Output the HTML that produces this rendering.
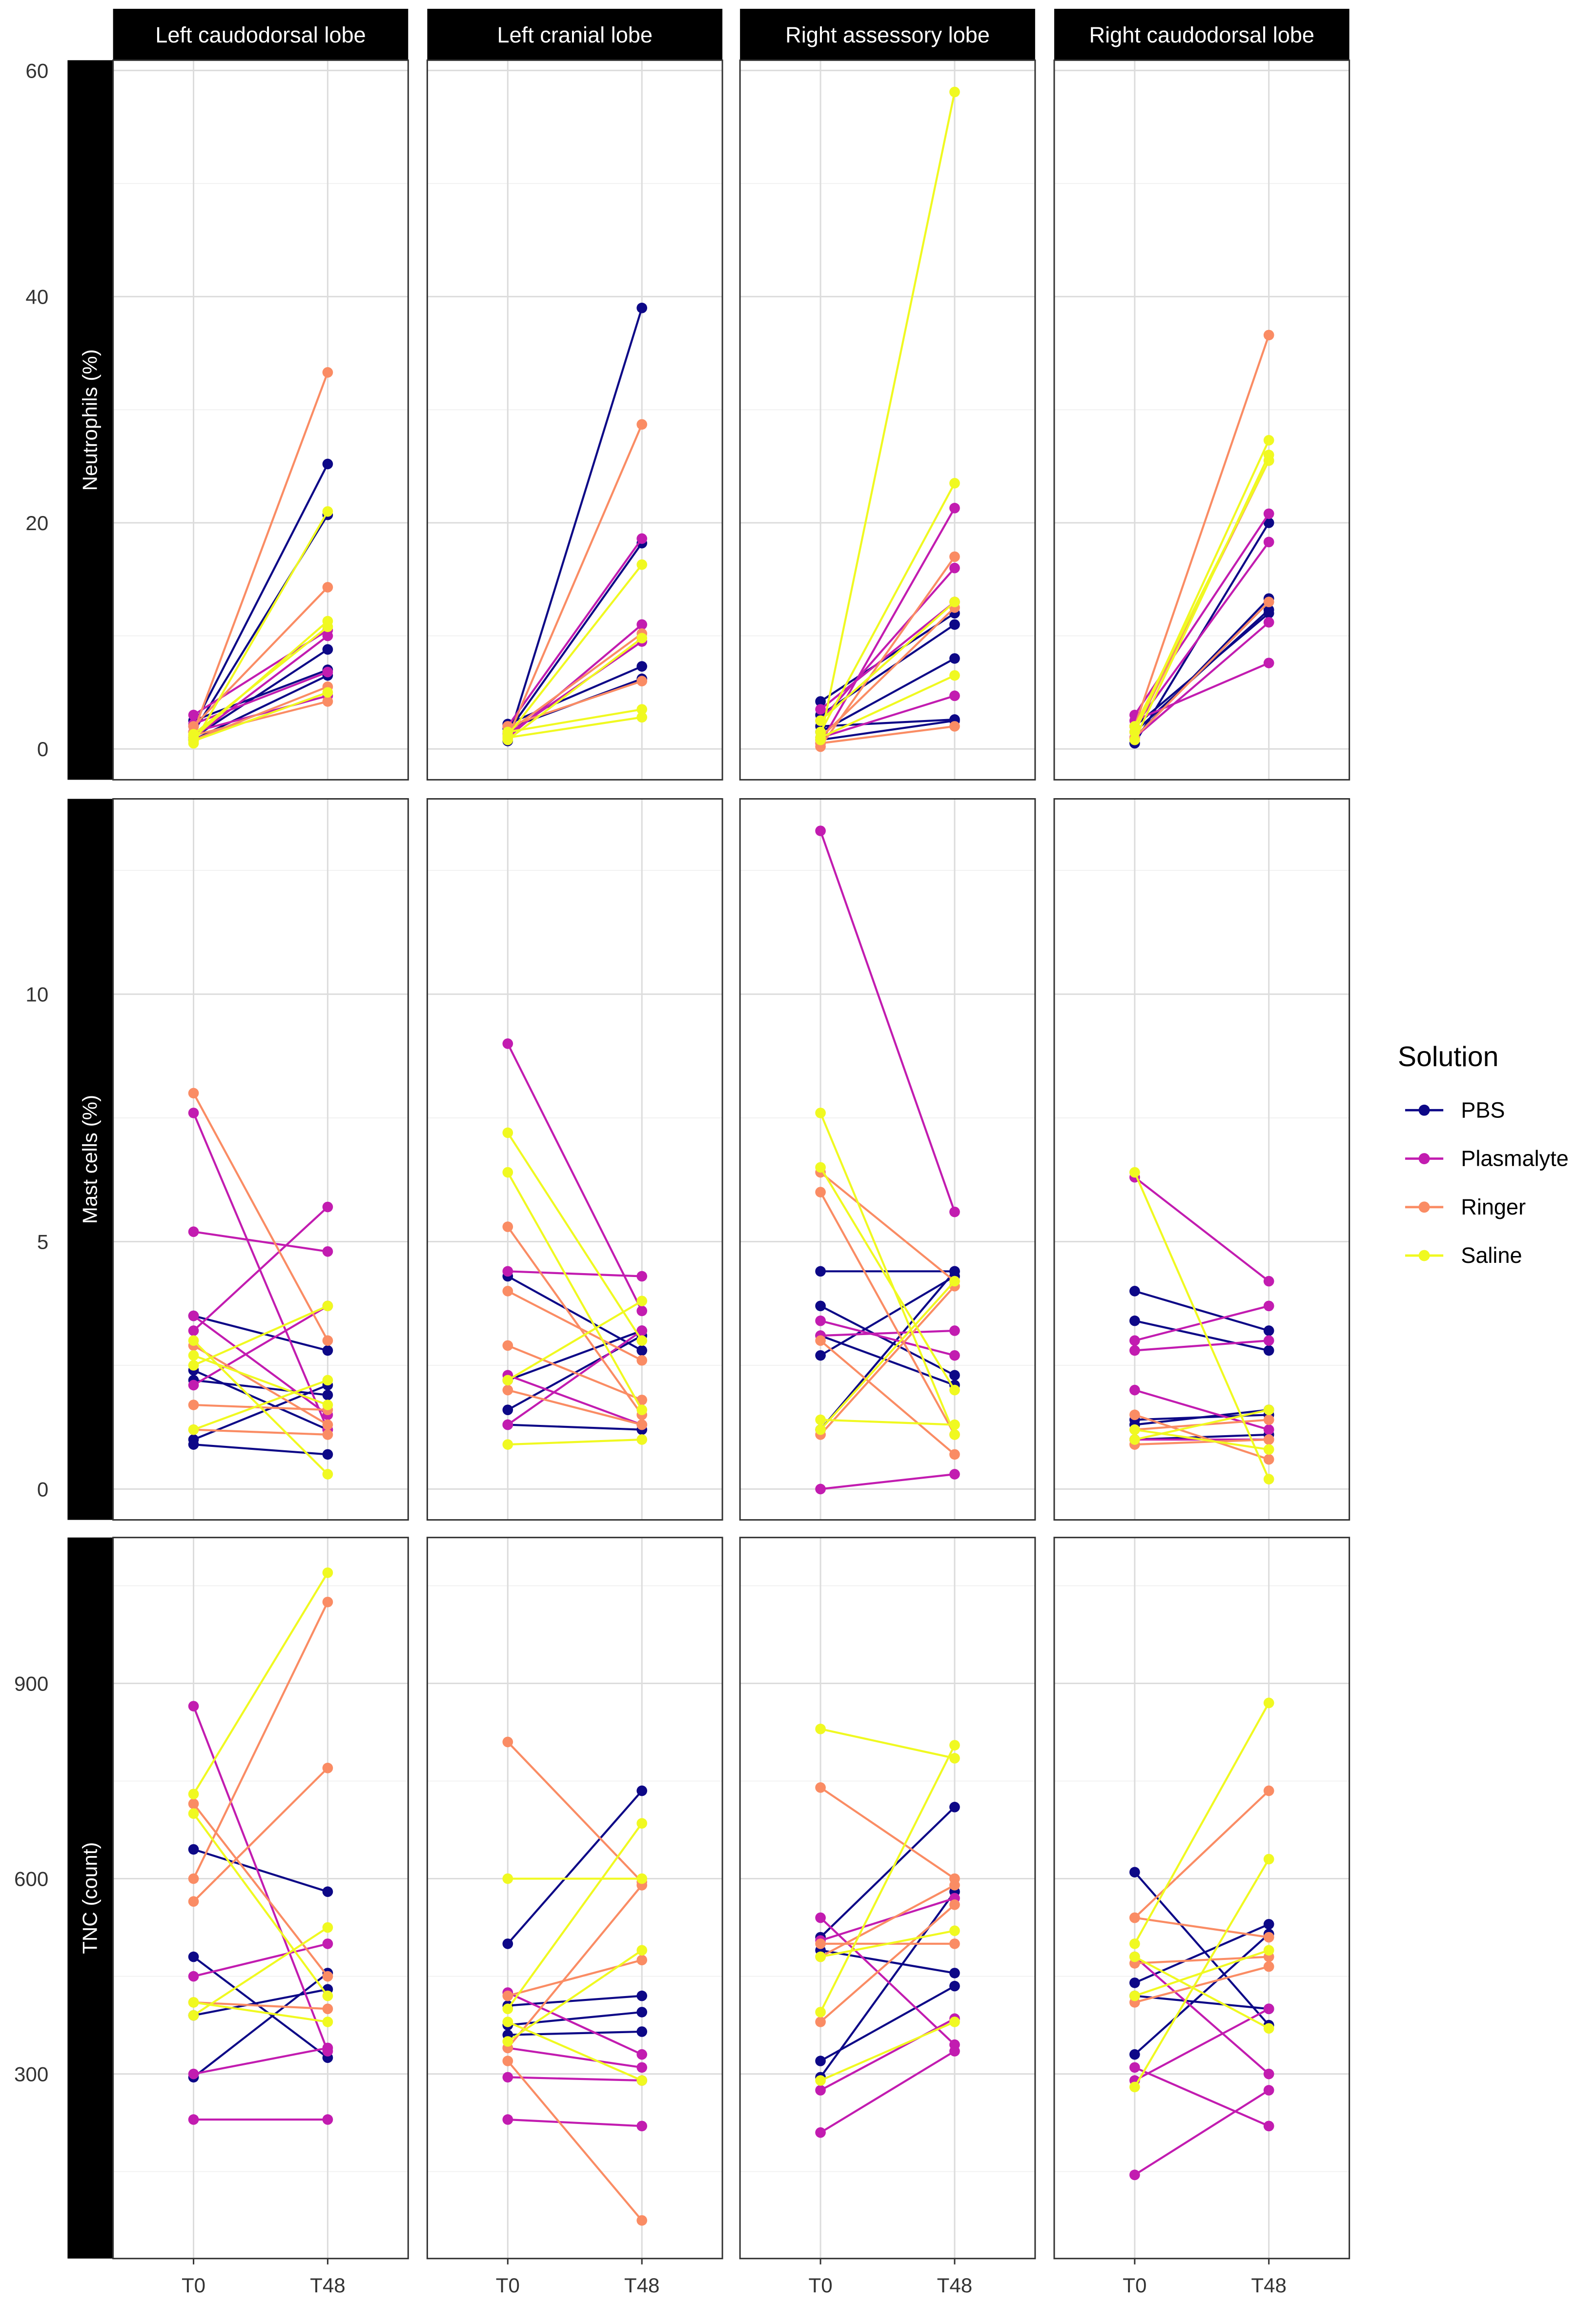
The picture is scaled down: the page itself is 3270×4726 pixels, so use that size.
<!DOCTYPE html>
<html><head><meta charset="utf-8"><style>
html,body{margin:0;padding:0;background:#fff}
svg{display:block;font-family:"Liberation Sans",sans-serif}
</style></head><body>
<svg id="chart" width="3270" height="4726" viewBox="0 0 1087 1571" preserveAspectRatio="none" xmlns="http://www.w3.org/2000/svg"></svg>
<script>
const lobes = ["Left caudodorsal lobe","Left cranial lobe","Right assessory lobe","Right caudodorsal lobe"];
const measures = ["Neutrophils (%)","Mast cells (%)","TNC (count)"];
const solutions = ["PBS","Plasmalyte","Ringer","Saline"];
const timepoints = ["T0","T48"];
const colors = ["#0d0887","#c21cb0","#fa8c64","#f0f921"];
const yTicks0 = [0,20,40,60];
const yTicks1 = [0,5,10];
const yTicks2 = [300,600,900];
// [row][col][solution] => list of [T0, T48]
const neutro = [
 [[[2,25.2],[1.5,20.7],[1,8.8],[2.5,7],[0.8,6.5]],[[3,10.5],[2.2,6.8],[1.5,4.7],[1,10]],[[1.5,33.3],[2,14.3],[0.8,5.5],[1.2,4.2]],[[0.5,21],[1,11.3],[1.3,10.8],[0.7,5]]],
 [[[0.7,39],[1.5,18.2],[2.2,7.3],[1.8,6.2]],[[2,18.6],[1,11],[1.3,9.5]],[[1,28.7],[1.5,10.2],[2,6]],[[1.2,16.3],[0.8,9.8],[1.5,3.5],[1,2.8]]],
 [[[4.2,12],[3,11],[1.5,8],[2,2.6],[0.8,2.5]],[[0.5,21.3],[2.5,16],[3.5,13],[1,4.7]],[[0.2,17],[1,12.5],[0.5,2]],[[0.8,58.1],[1.5,23.5],[2.5,13],[1,6.5]]],
 [[[0.5,20],[1,13.3],[1.5,12.3],[2,12]],[[3,20.8],[2,18.3],[1,11.2],[2.5,7.6]],[[2,36.6],[1.5,25.5],[1,13]],[[1.5,27.3],[0.8,26],[2,25.5]]]
];
const mast = [
 [[[3.5,2.8],[2.2,1.9],[1,2.1],[0.9,0.7],[2.4,1.2]],[[7.6,1.2],[5.2,4.8],[3.2,5.7],[2.1,3.7],[3.5,1.5]],[[8,3],[2.9,1.3],[1.7,1.6],[1.2,1.1]],[[3,0.3],[2.5,3.7],[1.2,2.2],[2.7,1.7]]],
 [[[4.3,2.8],[2.2,3.2],[1.6,3.1],[1.3,1.2]],[[9,3.6],[4.4,4.3],[2.3,1.3],[1.3,3.2]],[[5.3,1.5],[4,2.6],[2.9,1.8],[2,1.3]],[[7.2,3],[6.4,1.6],[0.9,1],[2.2,3.8]]],
 [[[4.4,4.4],[3.7,2.3],[3.1,2.1],[2.7,4.3],[1.2,4.4]],[[13.3,5.6],[3.4,2.7],[0,0.3],[3.1,3.2]],[[6.4,4.2],[6,1.1],[3,0.7],[1.1,4.1]],[[7.6,1.1],[6.5,2],[1.4,1.3],[1.2,4.2]]],
 [[[4,3.2],[3.4,2.8],[1.3,1.6],[1,1.1],[1.4,1.5]],[[6.3,4.2],[3,3.7],[2.8,3],[2,1.2],[1,1]],[[1.5,0.6],[1.2,1.4],[0.9,1]],[[6.4,0.2],[1,1.6],[1.2,0.8]]]
];
const tnc = [
 [[[645,580],[480,325],[295,455],[390,430]],[[865,335],[450,500],[300,340],[230,230]],[[715,450],[600,1025],[565,770],[410,400]],[[730,1070],[390,525],[410,380],[700,420]]],
 [[[500,735],[405,420],[375,395],[360,365]],[[425,330],[340,310],[295,290],[230,220]],[[810,595],[420,475],[320,75],[340,590]],[[600,600],[400,685],[350,490],[380,290]]],
 [[[510,710],[490,455],[320,435],[295,580]],[[540,345],[505,570],[275,385],[210,335]],[[740,600],[500,500],[380,560],[480,590]],[[830,785],[395,805],[480,520],[290,380]]],
 [[[610,375],[440,530],[330,515],[420,400]],[[480,300],[290,400],[310,220],[145,275]],[[540,735],[410,465],[540,510],[470,480]],[[500,870],[280,630],[480,370],[420,490]]]
];
const NS="http://www.w3.org/2000/svg";
const svg=document.getElementById('chart');
function el(t,a,p){const e=document.createElementNS(NS,t);for(const k in a)e.setAttribute(k,a[k]);(p||svg).appendChild(e);return e;}
const colX=[77,291,504,718], pw=201;
const rowY=[[41,531],[544,1035],[1047,1538]];
// y maps: value -> px
const yMaps=[v=>510-v*7.7, v=>1014-v*33.7, v=>1545.3-v*0.4433];
const rowTicks=[yTicks0,yTicks1,yTicks2];
const rowMinor=[[10,30,50],[2.5,7.5,12.5],[150,450,750,1050]];
const rowData=[neutro,mast,tnc];
const xMap=(c,i)=>colX[c]+pw*(0.6+i)/2.2;
lobes.forEach((lobe,c)=>{
  const g=el('g',{});
  
  
  el('rect',{x:colX[c],y:6,width:pw,height:35,fill:'#000'},g);
  el('text',{x:colX[c]+pw/2,y:29,'text-anchor':'middle','font-size':15,fill:'#fff'},g).textContent=lobe;
  timepoints.forEach((t,i)=>{
    const tx=el('text',{x:xMap(c,i),y:1561,'text-anchor':'middle','font-size':14,fill:'#333'});
    tx.textContent=t;
    
    
    el('line',{x1:xMap(c,i),x2:xMap(c,i),y1:1538,y2:1542,stroke:'#333'});
  });
});
measures.forEach((m,r)=>{
  const [y0,y1]=rowY[r];
  const sg=el('g',{});
  
  
  el('rect',{x:46,y:y0,width:31,height:y1-y0,fill:'#000'},sg);
  const cy=(y0+y1)/2;
  el('text',{x:66,y:cy,'text-anchor':'middle','font-size':14,fill:'#fff',transform:`rotate(-90 66 ${cy})`},sg).textContent=m;
  rowTicks[r].forEach(v=>{
    const t=el('text',{x:33,y:yMaps[r](v)+5,'text-anchor':'end','font-size':14,fill:'#333'});
    t.textContent=v;
    
    
  });
  lobes.forEach((l,c)=>{
    const pg=el('g',{});
    
    
    el('rect',{x:colX[c],y:y0,width:pw,height:y1-y0,fill:'#fff'},pg);
    rowMinor[r].forEach(v=>{const y=yMaps[r](v);if(y>y0&&y<y1)el('line',{x1:colX[c],x2:colX[c]+pw,y1:y,y2:y,stroke:'#f0f0f0','stroke-width':0.6},pg);});
    rowTicks[r].forEach(v=>{const y=yMaps[r](v);el('line',{x1:colX[c],x2:colX[c]+pw,y1:y,y2:y,stroke:'#dcdcdc','stroke-width':1},pg);});
    [0,1].forEach(i=>el('line',{x1:xMap(c,i),x2:xMap(c,i),y1:y0,y2:y1,stroke:'#dcdcdc','stroke-width':1},pg));
    rowData[r][c].forEach((list,s)=>{
      list.forEach(pair=>{
        const ln=el('line',{x1:xMap(c,0),y1:yMaps[r](pair[0]),x2:xMap(c,1),y2:yMaps[r](pair[1]),stroke:colors[s],'stroke-width':1.4},pg);
        
        
        pair.forEach((v,i)=>{
          const p=el('circle',{cx:xMap(c,i),cy:yMaps[r](v),r:3.6,fill:colors[s]},pg);
          
          
        });
      });
    });
    el('rect',{x:colX[c],y:y0,width:pw,height:y1-y0,fill:'none',stroke:'#333','stroke-width':1},pg);
  });
});
const lg=el('g',{});


el('text',{x:952,y:726,'font-size':19,fill:'#000'},lg).textContent='Solution';
solutions.forEach((s,i)=>{
  const y=756+i*33;
  const e=el('g',{},lg);
  
  
  el('line',{x1:957,x2:983,y1:y,y2:y,stroke:colors[i],'stroke-width':1.6},e);
  el('circle',{cx:970,cy:y,r:3.8,fill:colors[i]},e);
  el('text',{x:995,y:y+5,'font-size':15,fill:'#000'},e).textContent=s;
});
</script>
</body></html>
